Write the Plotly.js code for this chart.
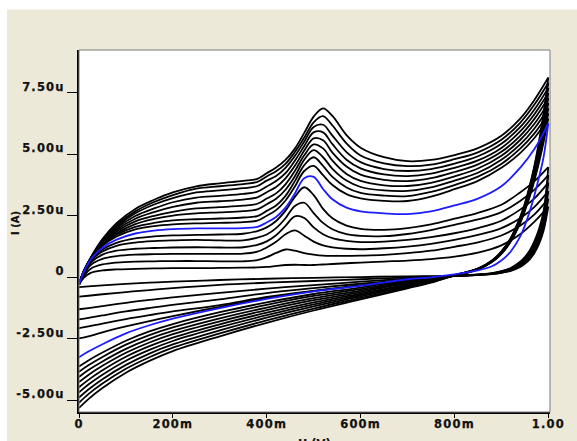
<!DOCTYPE html>
<html>
<head>
<meta charset="utf-8">
<script src="https://cdn.plot.ly/plotly-3.0.1.min.js"></script>
<style>
html,body{margin:0;padding:0;background:#fff;}
#chart{width:577px;height:441px;}
.xtick text,.ytick text{letter-spacing:1.2px;stroke:#111;stroke-width:0.25px;}
.annotation-text{stroke:#111;stroke-width:0.2px;}
</style>
</head>
<body>
<div id="chart"></div>
<script>
// Potential grid (V) for the forward (anodic) and reverse (cathodic) sweeps
const V_FWD = [0, 0.01, 0.025, 0.05, 0.08, 0.12, 0.16, 0.2, 0.25, 0.3, 0.35, 0.38, 0.40, 0.42, 0.44, 0.46, 0.48, 0.50, 0.52, 0.54, 0.57, 0.60, 0.65, 0.70, 0.75, 0.80, 0.85, 0.90, 0.94, 0.97, 1.0];
const V_REV = [0.99, 0.98, 0.97, 0.96, 0.95, 0.94, 0.92, 0.90, 0.88, 0.85, 0.80, 0.75, 0.70, 0.60, 0.50, 0.40, 0.30, 0.20, 0.15, 0.10, 0.05, 0.02, 0];

// Currents in microamperes, one forward and one reverse array per scan
const fwd00 = [-0.3, -0.02, 0.18, 0.28, 0.32, 0.34, 0.36, 0.37, 0.37, 0.38, 0.39, 0.40, 0.42, 0.46, 0.50, 0.51, 0.50, 0.50, 0.52, 0.54, 0.57, 0.60, 0.64, 0.68, 0.74, 0.84, 1.0, 1.3, 1.75, 2.25, 2.87];
const rev00 = [1.9, 1.35, 0.98, 0.72, 0.55, 0.42, 0.26, 0.18, 0.13, 0.09, 0.05, 0.05, 0.04, 0.01, -0.02, -0.06, -0.11, -0.18, -0.22, -0.27, -0.33, -0.37, -0.40];
const fwd01 = [-0.3, 0.05, 0.35, 0.52, 0.6, 0.64, 0.65, 0.66, 0.66, 0.65, 0.65, 0.70, 0.82, 0.99, 1.13, 1.08, 0.98, 0.92, 0.88, 0.87, 0.87, 0.88, 0.91, 0.98, 1.08, 1.24, 1.42, 1.7, 2.1, 2.55, 3.2];
const rev01 = [2.05, 1.47, 1.07, 0.79, 0.6, 0.46, 0.28, 0.19, 0.14, 0.1, 0.05, 0.03, 0.0, -0.08, -0.15, -0.22, -0.31, -0.44, -0.52, -0.60, -0.69, -0.75, -0.79];
const fwd02 = [-0.3, 0.1, 0.5, 0.75, 0.86, 0.92, 0.94, 0.95, 0.95, 0.95, 0.96, 1.04, 1.21, 1.44, 1.75, 1.91, 1.69, 1.45, 1.30, 1.22, 1.16, 1.14, 1.18, 1.25, 1.36, 1.52, 1.72, 2.0, 2.4, 2.85, 3.5];
const rev02 = [2.2, 1.6, 1.17, 0.87, 0.66, 0.5, 0.31, 0.21, 0.15, 0.1, 0.05, 0.01, -0.05, -0.18, -0.32, -0.46, -0.63, -0.82, -0.92, -1.04, -1.17, -1.25, -1.30];
const fwd03 = [-0.3, 0.14, 0.6, 0.92, 1.08, 1.16, 1.19, 1.21, 1.22, 1.21, 1.22, 1.32, 1.46, 1.71, 2.09, 2.48, 2.41, 2.03, 1.75, 1.59, 1.48, 1.43, 1.45, 1.52, 1.63, 1.79, 2.0, 2.3, 2.75, 3.2, 3.85];
const rev03 = [2.38, 1.72, 1.27, 0.94, 0.71, 0.55, 0.33, 0.22, 0.15, 0.11, 0.06, -0.01, -0.1, -0.26, -0.44, -0.64, -0.9, -1.12, -1.25, -1.39, -1.55, -1.65, -1.71];
const fwd04 = [-0.3, 0.17, 0.66, 1.05, 1.28, 1.41, 1.47, 1.50, 1.52, 1.50, 1.50, 1.61, 1.74, 2.00, 2.40, 2.90, 3.03, 2.61, 2.21, 1.95, 1.75, 1.68, 1.67, 1.76, 1.92, 2.13, 2.35, 2.65, 3.1, 3.55, 4.15];
const rev04 = [2.55, 1.84, 1.36, 1.01, 0.77, 0.59, 0.36, 0.24, 0.16, 0.11, 0.06, -0.03, -0.15, -0.33, -0.55, -0.80, -1.13, -1.39, -1.54, -1.7, -1.88, -2.0, -2.07];
const fwd05 = [-0.3, 0.19, 0.7, 1.13, 1.4, 1.58, 1.66, 1.70, 1.72, 1.74, 1.77, 1.88, 2.03, 2.29, 2.71, 3.27, 3.66, 3.34, 2.78, 2.40, 2.10, 1.97, 1.93, 2.0, 2.15, 2.38, 2.62, 2.95, 3.45, 3.9, 4.48];
const rev05 = [2.7, 1.95, 1.45, 1.08, 0.82, 0.63, 0.38, 0.25, 0.17, 0.12, 0.06, -0.02, -0.1, -0.33, -0.56, -0.84, -1.2, -1.58, -1.78, -2.0, -2.24, -2.4, -2.48];
const fwd06 = [-0.3, 0.2, 0.72, 1.2, 1.53, 1.78, 1.9, 1.96, 1.99, 1.99, 2.0, 2.05, 2.23, 2.45, 2.83, 3.41, 4.03, 4.08, 3.59, 3.17, 2.83, 2.68, 2.60, 2.57, 2.68, 2.92, 3.2, 3.7, 4.45, 5.2, 6.26];
const rev06 = [4.9, 4.05, 3.3, 2.65, 2.1, 1.65, 1.05, 0.68, 0.45, 0.28, 0.12, 0.0, -0.08, -0.35, -0.57, -0.88, -1.25, -1.68, -1.95, -2.28, -2.72, -3.02, -3.25];
const fwd07 = [-0.3, 0.22, 0.74, 1.28, 1.66, 1.95, 2.08, 2.15, 2.19, 2.21, 2.24, 2.30, 2.50, 2.73, 3.12, 3.69, 4.32, 4.53, 4.15, 3.75, 3.38, 3.21, 3.11, 3.10, 3.28, 3.58, 3.92, 4.45, 5.05, 5.65, 6.45];
const rev07 = [5.5, 4.65, 3.9, 3.25, 2.7, 2.2, 1.45, 0.95, 0.62, 0.32, 0.07, -0.03, -0.12, -0.42, -0.68, -1.02, -1.42, -1.9, -2.2, -2.58, -3.06, -3.38, -3.63];
const fwd08 = [-0.3, 0.22, 0.75, 1.31, 1.73, 2.05, 2.21, 2.31, 2.36, 2.39, 2.43, 2.49, 2.70, 2.92, 3.31, 3.91, 4.56, 4.88, 4.53, 4.08, 3.65, 3.43, 3.32, 3.30, 3.47, 3.75, 4.09, 4.61, 5.23, 5.84, 6.66];
const rev08 = [5.65, 4.76, 3.98, 3.31, 2.74, 2.23, 1.47, 0.96, 0.63, 0.32, 0.07, -0.05, -0.16, -0.48, -0.76, -1.12, -1.54, -2.04, -2.35, -2.74, -3.24, -3.58, -3.84];
const fwd09 = [-0.3, 0.23, 0.76, 1.35, 1.79, 2.16, 2.37, 2.51, 2.60, 2.64, 2.69, 2.76, 2.97, 3.19, 3.56, 4.11, 4.78, 5.17, 4.88, 4.41, 3.93, 3.67, 3.53, 3.51, 3.65, 3.93, 4.25, 4.78, 5.40, 6.04, 6.87];
const rev09 = [5.80, 4.86, 4.05, 3.36, 2.78, 2.26, 1.49, 0.98, 0.64, 0.33, 0.07, -0.08, -0.20, -0.54, -0.85, -1.23, -1.67, -2.18, -2.50, -2.91, -3.42, -3.77, -4.05];
const fwd10 = [-0.3, 0.23, 0.76, 1.38, 1.86, 2.27, 2.50, 2.66, 2.80, 2.85, 2.91, 2.99, 3.20, 3.41, 3.78, 4.32, 4.96, 5.40, 5.24, 4.74, 4.20, 3.92, 3.74, 3.71, 3.84, 4.10, 4.42, 4.94, 5.58, 6.23, 7.08];
const rev10 = [5.95, 4.97, 4.13, 3.42, 2.81, 2.29, 1.51, 0.99, 0.64, 0.33, 0.07, -0.10, -0.24, -0.60, -0.93, -1.33, -1.79, -2.31, -2.65, -3.07, -3.60, -3.97, -4.26];
const fwd11 = [-0.3, 0.24, 0.77, 1.41, 1.93, 2.38, 2.65, 2.86, 3.03, 3.09, 3.16, 3.25, 3.46, 3.67, 4.02, 4.53, 5.15, 5.65, 5.57, 5.07, 4.50, 4.17, 3.96, 3.91, 4.03, 4.28, 4.59, 5.10, 5.75, 6.43, 7.29];
const rev11 = [6.10, 5.08, 4.20, 3.48, 2.85, 2.33, 1.53, 1.00, 0.65, 0.34, 0.08, -0.13, -0.29, -0.66, -1.02, -1.44, -1.91, -2.45, -2.80, -3.23, -3.78, -4.17, -4.47];
const fwd12 = [-0.3, 0.24, 0.78, 1.45, 2.0, 2.49, 2.80, 3.05, 3.24, 3.31, 3.39, 3.48, 3.69, 3.91, 4.23, 4.74, 5.34, 5.89, 5.89, 5.41, 4.78, 4.43, 4.18, 4.11, 4.21, 4.45, 4.75, 5.26, 5.93, 6.62, 7.49];
const rev12 = [6.25, 5.18, 4.28, 3.53, 2.89, 2.36, 1.54, 1.01, 0.66, 0.34, 0.08, -0.15, -0.33, -0.72, -1.10, -1.54, -2.03, -2.59, -2.95, -3.39, -3.96, -4.36, -4.68];
const fwd13 = [-0.3, 0.24, 0.78, 1.48, 2.06, 2.60, 2.96, 3.22, 3.45, 3.53, 3.62, 3.71, 3.93, 4.12, 4.45, 4.93, 5.52, 6.11, 6.20, 5.76, 5.09, 4.68, 4.40, 4.32, 4.40, 4.62, 4.92, 5.43, 6.10, 6.81, 7.70];
const rev13 = [6.40, 5.29, 4.35, 3.59, 2.93, 2.39, 1.56, 1.03, 0.67, 0.34, 0.08, -0.17, -0.37, -0.78, -1.18, -1.64, -2.16, -2.73, -3.10, -3.56, -4.14, -4.56, -4.89];
const fwd14 = [-0.3, 0.25, 0.79, 1.52, 2.13, 2.68, 3.06, 3.34, 3.60, 3.70, 3.79, 3.88, 4.10, 4.31, 4.61, 5.09, 5.68, 6.30, 6.55, 6.17, 5.44, 4.95, 4.63, 4.52, 4.58, 4.80, 5.08, 5.59, 6.28, 7.01, 7.91];
const rev14 = [6.55, 5.39, 4.43, 3.64, 2.96, 2.42, 1.58, 1.04, 0.67, 0.35, 0.08, -0.20, -0.41, -0.84, -1.27, -1.75, -2.28, -2.86, -3.25, -3.72, -4.32, -4.75, -5.10];
const fwd15 = [-0.3, 0.25, 0.80, 1.55, 2.2, 2.78, 3.15, 3.45, 3.70, 3.82, 3.92, 4.00, 4.23, 4.46, 4.77, 5.23, 5.87, 6.53, 6.87, 6.56, 5.78, 5.27, 4.88, 4.72, 4.77, 4.97, 5.25, 5.75, 6.45, 7.20, 8.12];
const rev15 = [6.7, 5.5, 4.5, 3.7, 3.0, 2.45, 1.6, 1.05, 0.68, 0.35, 0.08, -0.22, -0.45, -0.90, -1.35, -1.85, -2.40, -3.00, -3.40, -3.88, -4.50, -4.95, -5.31];

const HIGHLIGHT = 6; // the blue scan

const X_TICKS = [0, 0.2, 0.4, 0.6, 0.8, 1.0];
const X_LABELS = ['0', '200m', '400m', '600m', '800m', '1.00'];
const Y_TICKS = [-5, -2.5, 0, 2.5, 5, 7.5];
const Y_LABELS = ['-5.00u', '-2.50u', '0', '2.50u', '5.00u', '7.50u'];

const SCANS = [
  [fwd00, rev00], [fwd01, rev01], [fwd02, rev02], [fwd03, rev03],
  [fwd04, rev04], [fwd05, rev05], [fwd06, rev06], [fwd07, rev07],
  [fwd08, rev08], [fwd09, rev09], [fwd10, rev10], [fwd11, rev11],
  [fwd12, rev12], [fwd13, rev13], [fwd14, rev14], [fwd15, rev15]
];

function makeTraces(idx, color, width) {
  const f = SCANS[idx][0], r = SCANS[idx][1];
  const turnV = V_FWD[V_FWD.length - 1];
  const turnI = f[f.length - 1];
  const line = {color: color, width: width, shape: 'spline', smoothing: 1};
  return [
    {type: 'scatter', mode: 'lines', x: V_FWD, y: f, line: line, hoverinfo: 'skip', showlegend: false},
    {type: 'scatter', mode: 'lines', x: [turnV].concat(V_REV), y: [turnI].concat(r), line: line, hoverinfo: 'skip', showlegend: false}
  ];
}

let traces = [];
for (let i = 0; i < SCANS.length; i++) {
  if (i !== HIGHLIGHT) traces = traces.concat(makeTraces(i, '#000000', 1.8));
}
traces = traces.concat(makeTraces(HIGHLIGHT, '#1c1cff', 1.8));

const W = 577, H = 441, L = 79, R = 27, T = 50, B = 29;
const pw = W - L - R, ph = H - T - B;
const tickFont = {family: 'DejaVu Sans', size: 11.5, color: '#111111', weight: 'bold'};

const layout = {
  width: W, height: H,
  margin: {l: L, r: R, t: T, b: B, pad: 0},
  paper_bgcolor: '#ffffff',
  plot_bgcolor: 'rgba(0,0,0,0)',
  showlegend: false,
  xaxis: {
    range: [0, 1.0036], tickmode: 'array', tickvals: X_TICKS, ticktext: X_LABELS,
    ticks: 'outside', ticklen: 4, tickwidth: 1, tickcolor: '#000', ticklabelstandoff: -4,
    showgrid: false, zeroline: false, showline: true, linecolor: '#000', linewidth: 2,
    tickfont: tickFont, fixedrange: true
  },
  yaxis: {
    range: [-5.476, 9.239], tickmode: 'array', tickvals: Y_TICKS, ticktext: Y_LABELS,
    ticks: 'outside', ticklen: 10, tickwidth: 1, tickcolor: '#000', ticklabelshift: -6,
    showgrid: false, zeroline: false, showline: true, linecolor: '#000', linewidth: 2,
    tickfont: tickFont, fixedrange: true
  },
  shapes: [
    {type: 'rect', xref: 'paper', yref: 'paper', layer: 'below',
     x0: (7 - L) / pw, x1: (W - L) / pw, y0: (T + ph - H) / ph, y1: (T + ph - 9.5) / ph,
     fillcolor: '#ECE9D8', line: {width: 0}},
    {type: 'rect', xref: 'paper', yref: 'paper', layer: 'below',
     x0: 0, x1: 1, y0: 0, y1: 1, fillcolor: '#ffffff', line: {width: 0}},
    {type: 'rect', xref: 'paper', yref: 'paper', layer: 'above',
     x0: 0, x1: 1, y0: 0, y1: 1, fillcolor: 'rgba(0,0,0,0)', line: {color: '#7a7a7a', width: 1}}
  ],
  annotations: [
    {text: 'U (V)', xref: 'paper', yref: 'paper', x: 0.5, y: (T + ph - 435) / ph,
     xanchor: 'center', yanchor: 'top', showarrow: false,
     font: {family: 'DejaVu Sans', size: 11.5, color: '#111111', weight: 'bold'}},
    {text: 'I (A)', xref: 'paper', yref: 'paper', x: (16 - L) / pw, y: (T + ph - 223) / ph,
     xanchor: 'center', yanchor: 'middle', textangle: -90, showarrow: false,
     font: {family: 'DejaVu Sans', size: 10, color: '#111111', weight: 'bold'}}
  ]
};

Plotly.newPlot('chart', traces, layout, {staticPlot: true, displayModeBar: false});
</script>
</body>
</html>
